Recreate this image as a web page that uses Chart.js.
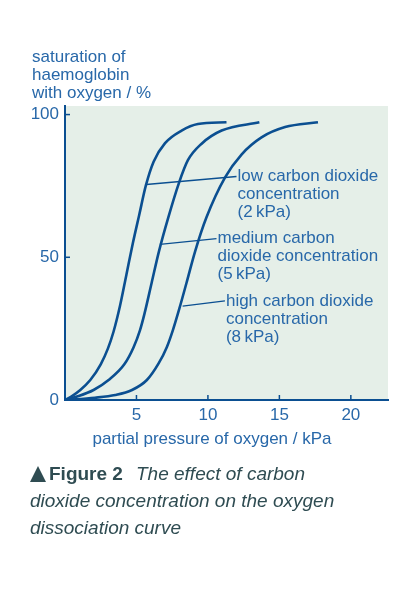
<!DOCTYPE html>
<html lang="en">
<head>
    <meta charset="UTF-8">
    <title>Oxygen dissociation curves</title>
    <script src="https://cdn.jsdelivr.net/npm/chart.js"></script>
    <style>
        body {
            margin: 0;
            background-color: #ffffff;
        }
        canvas {
            display: block;
        }
    </style>
</head>
<body>

<canvas id="chart" width="403" height="589"></canvas>

<script type="text/javascript">
    // values: partial pressure (kPa) -> saturation (%)
    const lowPressure = [0, 0.44, 1.07, 1.77, 2.5, 3.0, 3.4, 3.85, 4.3, 4.75, 5.2, 5.65, 6.2, 7.0, 8.16, 9.3, 11.3];
    const lowSaturation = [0, 1.2, 3.5, 7, 12.5, 18, 24, 33, 44, 55, 65, 75, 83.5, 90, 94.4, 96.7, 97.3];

    const mediumPressure = [0, 0.84, 2.0, 3.05, 4.15, 4.8, 5.25, 5.55, 6.06, 6.57, 7.23, 7.97, 8.6, 9.56, 10.96, 13.6];
    const mediumSaturation = [0, 1.2, 3.5, 7, 12.5, 18.5, 24.5, 30, 41, 52, 64, 76, 84, 89.8, 94.4, 97.3];

    const highPressure = [0, 2.1, 3.52, 4.69, 5.73, 6.55, 7.13, 7.55, 8.0, 8.5, 9.1, 9.9, 11.2, 12.35, 13.75, 15.4, 17.7];
    const highSaturation = [0, 0.8, 1.75, 3.5, 7, 12.8, 18.6, 24.5, 32, 41, 52, 64, 78, 86, 92, 95.6, 97.3];

    const xTicks = [5, 10, 15, 20];
    const yTicks = [0, 50, 100];

    // leader lines: curve point -> start of label text (kPa, %)
    const lowLeader = [[5.68, 75.5], [12.0, 78.3]];
    const mediumLeader = [[6.64, 54.5], [10.6, 56.5]];
    const highLeader = [[8.23, 32.9], [11.19, 34.7]];

    const lowLabel = ["low carbon dioxide", "concentration", "(2\u2009kPa)"];
    const mediumLabel = ["medium carbon", "dioxide concentration", "(5\u2009kPa)"];
    const highLabel = ["high carbon dioxide", "concentration", "(8\u2009kPa)"];

    const yTitle = ["saturation of", "haemoglobin", "with oxygen / %"];
    const xTitle = "partial pressure of oxygen / kPa";
    const captionBold = "Figure 2";
    const captionLines = ["The effect of carbon", "dioxide concentration on the oxygen", "dissociation curve"];

    const curveColor = "#0b4f91";
    const textColor = "#2868a9";
    const captionColor = "#2f4c52";
    const font = "'Liberation Sans', Arial, sans-serif";

    function toPoints(xs, ys) {
        return xs.map((x, i) => ({x: x, y: ys[i]}));
    }

    function curve(xs, ys) {
        return {
            data: toPoints(xs, ys),
            borderColor: curveColor,
            borderWidth: 2.6,
            pointRadius: 0,
            fill: false,
            cubicInterpolationMode: 'monotone'
        };
    }

    function leader(pts) {
        return {
            data: pts.map(p => ({x: p[0], y: p[1]})),
            borderColor: curveColor,
            borderWidth: 1.3,
            pointRadius: 0,
            fill: false,
            tension: 0
        };
    }

    const decorations = {
        id: 'decorations',
        beforeDraw(chart) {
            const ctx = chart.ctx;
            const a = chart.chartArea;
            ctx.save();
            ctx.fillStyle = "#e5efe8";
            ctx.fillRect(a.left, a.top, a.right - a.left, a.bottom - a.top);
            ctx.restore();
        },
        beforeDatasetsDraw(chart) {
            // short ticks pointing into the plot, as in the book figure
            const ctx = chart.ctx;
            const a = chart.chartArea;
            const xs = chart.scales.x;
            const ys = chart.scales.y;
            ctx.save();
            ctx.strokeStyle = curveColor;
            ctx.lineWidth = 1.5;
            xTicks.forEach(v => {
                const px = xs.getPixelForValue(v);
                ctx.beginPath();
                ctx.moveTo(px, a.bottom);
                ctx.lineTo(px, a.bottom - 5);
                ctx.stroke();
            });
            yTicks.slice(1).forEach(v => {
                const py = ys.getPixelForValue(v);
                ctx.beginPath();
                ctx.moveTo(a.left, py);
                ctx.lineTo(a.left + 5, py);
                ctx.stroke();
            });
            ctx.restore();
        },
        afterDraw(chart) {
            const ctx = chart.ctx;
            const xs = chart.scales.x;
            const ys = chart.scales.y;
            ctx.save();
            ctx.fillStyle = textColor;
            ctx.font = "17px " + font;
            ctx.textBaseline = "middle";
            ctx.textAlign = "left";

            [[lowLeader, lowLabel], [mediumLeader, mediumLabel], [highLeader, highLabel]].forEach(([pts, lines]) => {
                const end = pts[1];
                const px = xs.getPixelForValue(end[0]) + 1;
                const py = ys.getPixelForValue(end[1]);
                lines.forEach((t, i) => ctx.fillText(t, px, py + i * 18));
            });

            yTitle.forEach((t, i) => ctx.fillText(t, 32, 57 + i * 18));

            ctx.textAlign = "center";
            ctx.fillText(xTitle, 212, 439);

            // caption
            ctx.fillStyle = captionColor;
            ctx.textAlign = "left";
            ctx.beginPath();
            ctx.moveTo(30, 482);
            ctx.lineTo(38, 466);
            ctx.lineTo(46, 482);
            ctx.closePath();
            ctx.fill();
            ctx.font = "bold 19px " + font;
            ctx.fillText(captionBold, 49, 475);
            ctx.font = "italic 19px " + font;
            ctx.fillText(captionLines[0], 136, 475);
            ctx.fillText(captionLines[1], 30, 502);
            ctx.fillText(captionLines[2], 30, 529);
            ctx.restore();
        }
    };

    const ctx = document.getElementById("chart").getContext("2d");

    new Chart(ctx, {
        type: 'line',
        data: {
            datasets: [
                curve(lowPressure, lowSaturation),
                curve(mediumPressure, mediumSaturation),
                curve(highPressure, highSaturation),
                leader(lowLeader),
                leader(mediumLeader),
                leader(highLeader)
            ]
        },
        options: {
            responsive: false,
            animation: false,
            layout: {
                padding: {top: 106, right: 15, left: 0, bottom: 0}
            },
            plugins: {
                legend: {display: false},
                tooltip: {enabled: false}
            },
            scales: {
                x: {
                    type: 'linear',
                    min: 0,
                    max: 22.6,
                    grid: {display: false, drawTicks: false},
                    border: {display: true, color: curveColor, width: 2},
                    afterBuildTicks: axis => { axis.ticks = xTicks.map(v => ({value: v})); },
                    afterFit: axis => { axis.height = 189; },
                    ticks: {
                        color: textColor,
                        padding: 5,
                        font: {family: font, size: 17}
                    }
                },
                y: {
                    min: 0,
                    max: 103,
                    grid: {display: false, drawTicks: false},
                    border: {display: true, color: curveColor, width: 2},
                    afterBuildTicks: axis => { axis.ticks = yTicks.map(v => ({value: v})); },
                    afterFit: axis => { axis.width = 65; },
                    ticks: {
                        color: textColor,
                        padding: 6,
                        font: {family: font, size: 17}
                    }
                }
            }
        },
        plugins: [decorations]
    });
</script>

</body>
</html>
